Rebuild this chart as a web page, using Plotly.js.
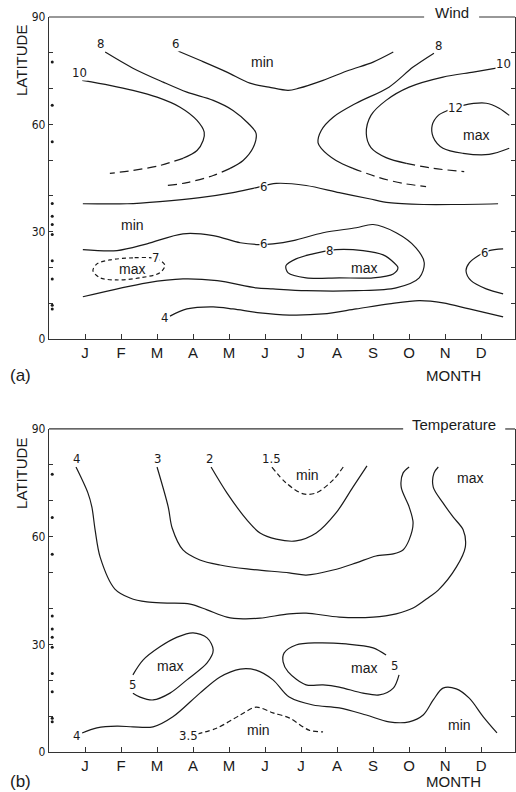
<!DOCTYPE html>
<html><head><meta charset="utf-8">
<script src="https://cdn.plot.ly/plotly-3.0.1.min.js"></script>
<style>body{margin:0;background:#fff}</style>
</head><body>
<div id="chart" style="width:516px;height:792px"></div>
<script>
// ---------- axis data ----------
const monthTicks = [1,2,3,4,5,6,7,8,9,10,11,12];
const monthLabels = ['J','F','M','A','M','J','J','A','S','O','N','D'];
const latTicks = [0,10,20,30,40,50,60,70,80,90];
const latLabels = ['0','','','30','','','60','','','90'];
const stationLats = [77.4, 65.3, 55.1, 37.9, 34.3, 32.0, 29.2, 21.9, 16.8, 9.4, 8.4];

// ---------- (a) Wind contours: month, latitude ----------
const wind8L_m   = [1.56,2.33,3.17,3.83,4.56,5.11,5.53,5.75,5.67,5.39,5.03];
const wind8L_lat = [80.2,75.7,71.8,69.0,66.7,63.9,60.3,57.5,53.5,49.9,47.7];
const wind8Ld_m   = [5.03,4.56,3.83,3.28];
const wind8Ld_lat = [47.7,45.7,43.7,42.9];
const wind10L_m   = [0.92,1.69,2.33,3.0,3.64,4.11,4.31,4.28,4.11,3.72];
const wind10L_lat = [72.3,70.9,69.5,67.6,64.8,61.1,57.8,55.5,52.7,50.5];
const wind10Ld_m   = [3.72,3.08,2.33,1.69];
const wind10Ld_lat = [50.5,48.5,47.1,46.3];
const wind6T_m   = [3.58,4.19,4.94,5.58,6.11,6.64,6.94,7.61,8.33,9.0,9.56];
const wind6T_lat = [80.5,77.9,74.6,71.5,70.4,69.5,70.1,72.3,75.1,77.4,80.2];
const wind8R_m   = [10.69,10.11,9.44,8.53,7.89,7.56,7.47,7.56,7.97,8.44];
const wind8R_lat = [79.9,76.0,70.4,65.9,62.0,58.3,54.9,53.3,49.9,47.7];
const wind8Rd_m   = [8.44,9.17,9.83,10.47];
const wind8Rd_lat = [47.7,45.1,43.5,42.6];
const wind10R_m   = [12.42,11.78,10.94,10.0,9.36,8.94,8.81,8.94,9.36,9.92];
const wind10R_lat = [75.7,74.6,73.2,70.4,66.7,62.5,57.5,53.5,50.7,49.1];
const wind10Rd_m   = [9.92,10.67,11.53];
const wind10Rd_lat = [49.1,47.7,46.8];
const wind12_m   = [12.78,12.5,12.14,11.5,11.08,10.81,10.64,10.67,10.94,11.5,12.22,12.78];
const wind12_lat = [62.5,64.5,65.9,65.3,63.9,62.5,59.7,56.4,53.3,51.9,51.6,53.3];
const wind6M_m   = [0.94,2.17,3.08,4.19,5.11,5.67,6.31,7.14,8.06,8.89,9.44,10.39,11.31,12.47];
const wind6M_lat = [37.8,37.8,38.4,39.5,40.9,42.1,43.5,42.9,40.9,39.2,38.1,37.6,37.6,37.8];
const wind6U_m   = [0.94,1.89,2.72,3.72,4.56,5.31,5.86,6.22,6.78,7.61,8.53,9.0,9.64,10.19,10.42,10.28,9.64,8.53,7.14,6.22,5.75,4.67,3.72,2.72,0.94];
const wind6U_lat = [25.0,24.7,26.6,29.4,28.9,26.9,26.4,26.6,27.5,29.7,31.1,32.0,29.7,25.5,21.3,17.1,14.3,13.5,13.5,14.0,14.3,16.3,16.8,15.7,11.8];
const wind8loop_m   = [7.97,8.72,9.28,9.58,9.69,9.56,9.0,8.06,7.14,6.64,6.58,6.86,7.33,7.61,7.97];
const wind8loop_lat = [25.0,24.7,23.5,21.3,19.9,18.2,17.1,17.1,17.1,18.5,20.5,22.4,23.8,24.4,25.0];
const wind6D_m   = [12.61,12.22,11.92,11.67,11.58,11.72,12.14,12.61];
const wind6D_lat = [25.2,24.7,23.3,21.3,19.1,16.3,14.0,12.6];
const wind4_m   = [3.36,3.83,4.56,5.11,5.86,6.67,7.61,8.53,9.44,10.28,10.94,11.67,12.61];
const wind4_lat = [6.4,8.4,9.0,8.4,7.3,6.7,7.0,8.4,9.8,10.7,10.1,8.4,6.2];
const wind7_m   = [2.86,2.33,1.69,1.33,1.22,1.42,1.89,2.53,3.08,3.22,3.14,2.97,2.86];
const wind7_lat = [22.7,22.7,22.1,21.0,19.1,17.1,16.5,17.1,18.5,20.5,21.6,22.4,22.7];

// ---------- (b) Temperature contours ----------
const temp4U_m   = [0.75,1.08,1.19,1.28,1.42,1.83,2.25,2.72,3.28,3.92,4.39,4.94,5.39,5.86,6.67,7.14,8.06,9.0,9.64,10.11,10.56,10.81,11.31,11.56,11.5,11.22,10.94,10.67,10.69,10.81];
const temp4U_lat = [79.4,72.2,68.3,61.9,54.3,45.4,42.9,41.8,41.5,41.2,39.6,37.6,37.1,37.3,38.5,38.7,37.6,37.6,38.5,40.1,43.2,45.1,51.5,57.1,61.9,65.5,69.4,73.8,77.7,79.4];
const temp3_m   = [3.0,3.31,3.42,3.72,4.19,4.75,5.5,6.67,7.14,7.89,8.53,9.08,9.56,9.83,10.0,10.11,10.0,9.78,9.83,10.0];
const temp3_lat = [79.4,68.3,62.4,56.3,53.5,52.1,51.0,49.9,49.3,50.7,52.7,54.6,55.2,56.3,59.1,63.8,68.3,73.8,77.7,79.4];
const temp2_m   = [4.5,4.94,5.5,5.86,6.31,6.86,7.42,7.97,8.44,8.83];
const temp2_lat = [79.4,72.2,64.6,61.0,59.3,58.8,61.0,66.6,73.8,79.7];
const temp15_m   = [6.19,6.58,7.06,7.42,7.89,8.17];
const temp15_lat = [79.4,75.0,71.9,72.2,75.8,79.4];
const temp5L_m   = [2.33,2.61,3.08,3.56,4.0,4.39,4.56,4.39,3.83,3.36,2.89,2.53,2.33];
const temp5L_lat = [21.5,25.6,29.3,32.0,33.2,31.8,28.4,24.8,20.1,16.4,14.5,15.3,16.4];
const temp4B_m   = [0.92,1.33,1.89,2.33,2.89,3.44,4.19,4.75,5.31,5.75,6.22,6.67,7.33,8.06,8.81,9.44,10.0,10.39,10.67,10.94,11.31,11.67,12.06,12.44];
const temp4B_lat = [5.3,6.7,7.2,7.0,7.0,9.8,16.4,20.9,23.1,22.8,20.1,15.3,13.1,12.3,10.3,8.4,8.4,10.3,14.5,17.8,17.6,15.0,9.8,5.3];
const temp5R_m   = [9.36,9.0,8.25,7.42,6.86,6.53,6.5,6.64,7.14,7.61,8.06,8.72,9.17,9.56,9.72];
const temp5R_lat = [27.0,29.0,30.1,30.4,29.8,27.6,25.1,22.3,18.7,18.7,18.1,16.4,15.9,17.8,21.5];
const temp35_m   = [4.11,4.67,5.31,5.75,6.22,6.67,7.22,7.61];
const temp35_lat = [5.0,6.7,10.3,12.5,10.9,9.5,6.1,5.6];

// ---------- build ----------
const LC = '#1a1a1a';
const traces = [];
function line(m, lat, panel, dash) {
  traces.push({
    type: 'scatter', mode: 'lines', x: m, y: lat,
    xaxis: panel === 'a' ? 'x' : 'x2', yaxis: panel === 'a' ? 'y' : 'y2',
    line: {color: LC, width: 1.2, shape: 'spline', smoothing: 0.9, dash: dash || 'solid'},
    hoverinfo: 'skip', showlegend: false
  });
}
const LONG = '9px,5px', SHORT = '4px,3px';
line(wind8L_m, wind8L_lat, 'a'); line(wind8Ld_m, wind8Ld_lat, 'a', LONG);
line(wind10L_m, wind10L_lat, 'a'); line(wind10Ld_m, wind10Ld_lat, 'a', LONG);
line(wind6T_m, wind6T_lat, 'a');
line(wind8R_m, wind8R_lat, 'a'); line(wind8Rd_m, wind8Rd_lat, 'a', LONG);
line(wind10R_m, wind10R_lat, 'a'); line(wind10Rd_m, wind10Rd_lat, 'a', LONG);
line(wind12_m, wind12_lat, 'a');
line(wind6M_m, wind6M_lat, 'a');
line(wind6U_m, wind6U_lat, 'a');
line(wind8loop_m, wind8loop_lat, 'a');
line(wind6D_m, wind6D_lat, 'a');
line(wind4_m, wind4_lat, 'a');
line(wind7_m, wind7_lat, 'a', SHORT);

line(temp4U_m, temp4U_lat, 'b');
line(temp3_m, temp3_lat, 'b');
line(temp2_m, temp2_lat, 'b');
line(temp15_m, temp15_lat, 'b', '5px,3px');
line(temp5L_m, temp5L_lat, 'b');
line(temp4B_m, temp4B_lat, 'b');
line(temp5R_m, temp5R_lat, 'b');
line(temp35_m, temp35_lat, 'b', '5px,3px');

// station dots
['a','b'].forEach(p => traces.push({
  type: 'scatter', mode: 'markers', x: stationLats.map(() => 0.09), y: stationLats,
  xaxis: p === 'a' ? 'x' : 'x2', yaxis: p === 'a' ? 'y' : 'y2',
  marker: {color: LC, size: 3}, hoverinfo: 'skip', showlegend: false, cliponaxis: false
}));

const NUMF = {family: 'Liberation Sans Narrow, DejaVu Sans Condensed, Arial Narrow, sans-serif', size: 13, color: LC};
const TXTF = {family: 'Liberation Sans, Arial, Helvetica, sans-serif', size: 14, color: LC};
const ann = [];
function num(t, m, lat, p) {
  ann.push({text: t, x: m, y: lat, xref: p === 'a' ? 'x' : 'x2', yref: p === 'a' ? 'y' : 'y2',
    xanchor: 'center', yanchor: 'middle',
    showarrow: false, font: NUMF, bgcolor: '#ffffff', borderpad: 0});
}
function word(t, m, lat, p) {
  ann.push({text: t, x: m, y: lat, xref: p === 'a' ? 'x' : 'x2', yref: p === 'a' ? 'y' : 'y2',
    xanchor: 'center', yanchor: 'middle', showarrow: false, font: TXTF});
}
// wind labels
num('8', 1.42, 82.7, 'a'); num('10', 0.86, 74.6, 'a'); num('6', 3.5, 82.7, 'a');
num('8', 10.81, 81.9, 'a'); num('10', 12.61, 77.1, 'a'); num('12', 11.28, 64.8, 'a');
num('6', 5.97, 42.6, 'a'); num('6', 5.97, 26.6, 'a'); num('8', 7.78, 24.7, 'a');
num('6', 12.08, 24.1, 'a'); num('4', 3.22, 5.9, 'a'); num('7', 2.97, 22.7, 'a');
word('min', 5.94, 77.4, 'a'); word('max', 11.86, 56.9, 'a'); word('min', 2.33, 32.0, 'a');
word('max', 2.31, 19.6, 'a'); word('max', 8.75, 19.9, 'a');
// temperature labels
num('4', 0.75, 81.8, 'b'); num('3', 3.0, 81.8, 'b'); num('2', 4.47, 81.8, 'b'); num('1.5', 6.17, 81.8, 'b');
num('5', 2.31, 18.9, 'b'); num('4', 0.75, 4.5, 'b'); num('5', 9.58, 24.2, 'b'); num('3.5', 3.86, 4.7, 'b');
word('min', 7.19, 77.2, 'b'); word('max', 11.69, 76.3, 'b'); word('max', 3.36, 24.0, 'b');
word('max', 8.75, 23.4, 'b'); word('min', 5.81, 6.1, 'b'); word('min', 11.39, 7.5, 'b');

const BIGF = {family: 'Liberation Sans, Arial, Helvetica, sans-serif', size: 15, color: LC};
const PANF = {family: 'Liberation Sans, Arial, sans-serif', size: 17, color: LC};
function paperAnn(t, x, y, extra) {
  ann.push(Object.assign({text: t, x: x, y: y, xref: 'paper', yref: 'paper', showarrow: false,
    xanchor: 'center', yanchor: 'middle', borderpad: 0, font: BIGF}, extra || {}));
}
paperAnn('Wind', 0.865, 1.0068);
paperAnn('Temperature', 0.869, 0.4449);
paperAnn('MONTH', 0.869, 0.5129);
paperAnn('MONTH', 0.869, -0.0408);
paperAnn('LATITUDE', -0.058, 0.9415, {textangle: -90});
paperAnn('LATITUDE', -0.058, 0.3796, {textangle: -90});
paperAnn('(a)', -0.062, 0.5116, {font: PANF});
paperAnn('(b)', -0.062, -0.0395, {font: PANF});

function xax(anchor) {
  return {domain: [0, 1], range: [0, 12.94], anchor: anchor, tickvals: monthTicks, ticktext: monthLabels,
    ticks: 'inside', ticklen: 5, tickcolor: '#333', showline: true, linecolor: '#333', linewidth: 1.2,
    showgrid: false, zeroline: false, mirror: false, tickfont: BIGF, fixedrange: true};
}
function yax(anchor, dom) {
  return {domain: dom, range: [0, 90], anchor: anchor, tickvals: latTicks, ticktext: latLabels,
    ticks: 'inside', ticklen: 4, tickcolor: '#333', showline: true, linecolor: '#333', linewidth: 1.2,
    mirror: 'ticks', showgrid: false, zeroline: false, tickfont: {family: NUMF.family, size: 12, color: LC}};
}
const shapes = [
  {type: 'line', xref: 'paper', yref: 'y domain', x0: 0, x1: 0.805, y0: 1, y1: 1, line: {color: '#333', width: 1.2}},
  {type: 'line', xref: 'paper', yref: 'y domain', x0: 0.923, x1: 1, y0: 1, y1: 1, line: {color: '#333', width: 1.2}},
  {type: 'line', xref: 'paper', yref: 'y2 domain', x0: 0, x1: 0.760, y0: 1, y1: 1, line: {color: '#333', width: 1.2}},
  {type: 'line', xref: 'paper', yref: 'y2 domain', x0: 0.979, x1: 1, y0: 1, y1: 1, line: {color: '#333', width: 1.2}}
];
const layout = {
  width: 516, height: 792, margin: {l: 49, r: 1, t: 17, b: 40},
  paper_bgcolor: '#fff', plot_bgcolor: '#fff', showlegend: false,
  xaxis: xax('y'), yaxis: yax('x', [0.5619, 1]),
  xaxis2: xax('y2'), yaxis2: yax('x2', [0, 0.4395]),
  annotations: ann, shapes: shapes
};
Plotly.newPlot('chart', traces, layout, {staticPlot: true, displayModeBar: false});
</script>
</body></html>
